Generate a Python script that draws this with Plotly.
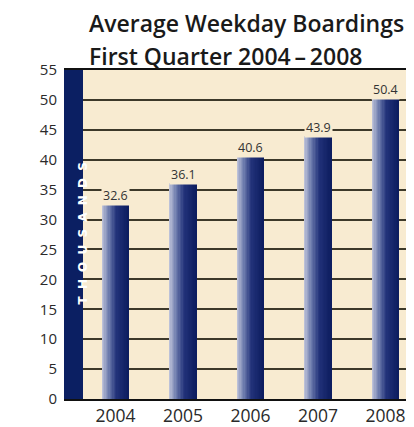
import plotly.graph_objects as go

years = ["2004", "2005", "2006", "2007", "2008"]
boardings = [32.6, 36.1, 40.6, 43.9, 50.4]
y_ticks = [0, 5, 10, 15, 20, 25, 30, 35, 40, 45, 50, 55]
title_lines = ["Average Weekday Boardings", "First Quarter 2004\u2009\u2013\u20092008"]
axis_label = "THOUSANDS"

NAVY = "#0b1f62"
BEIGE = "#f8ebd1"
OFF = 8  # page body margin
W, H = 414 - OFF, 427 - OFF
ML, MR, MT, MB = 64 - OFF, 0, 70 - OFF, 28
PW, PH = W - ML - MR, H - MT - MB

def lerp(c1, c2, t):
    a = [int(c1[i:i + 2], 16) for i in (1, 3, 5)]
    b = [int(c2[i:i + 2], 16) for i in (1, 3, 5)]
    return "#%02x%02x%02x" % tuple(round(a[k] + (b[k] - a[k]) * t) for k in range(3))

stops = [(0.0, "#c4c8dc"), (0.25, "#7280b0"), (0.55, "#22327a"), (1.0, "#0c1c5e")]
def grad(t):
    for (t0, c0), (t1, c1) in zip(stops, stops[1:]):
        if t <= t1:
            return lerp(c0, c1, (t - t0) / (t1 - t0))
    return stops[-1][1]

xs = list(range(len(years)))
bar_w = 0.40
n = 20
fig = go.Figure()
for i in range(n):
    fig.add_trace(go.Bar(
        x=xs, y=boardings, width=bar_w / n + 0.002,
        offset=-bar_w / 2 + i * bar_w / n,
        marker=dict(color=grad((i + 0.5) / n), line=dict(width=0)),
        showlegend=False, hoverinfo="skip"))

px_per_cat = 67.5
c0 = 115.5 - 64
x_lo = -c0 / px_per_cat
x_hi = (PW - c0) / px_per_cat

annotations = []
for xi, v in zip(xs, boardings):
    annotations.append(dict(x=xi, y=v, xref="x", yref="y", text=f"{v:.1f}",
                            showarrow=False, yanchor="bottom", yshift=-2,
                            bgcolor=BEIGE, borderpad=1,
                            font=dict(family="Open Sans", size=12.5, color="#333333")))

def py2paper(py):
    # py: pixel y in the reference window
    return (H - MB - (py - OFF)) / PH

for txt, py in zip(title_lines, [23, 56]):
    annotations.append(dict(x=(87 - 64) / PW, y=py2paper(py), xref="paper", yref="paper",
                            text=txt, showarrow=False, xanchor="left", yanchor="middle",
                            font=dict(family="Open Sans", size=23, weight=600, color="#1a1a1a")))

strip_w = 19 / PW
annotations.append(dict(x=strip_w / 2, y=py2paper(234), xref="paper", yref="paper",
                        text="\u2002\u200a".join(axis_label), textangle=-90, showarrow=False,
                        font=dict(family="DejaVu Sans", size=12, weight=700, color="#ffffff")))

fig.update_layout(
    width=W, height=H, margin=dict(l=ML, r=MR, t=MT, b=MB, autoexpand=False),
    paper_bgcolor="#ffffff", plot_bgcolor=BEIGE,
    barmode="overlay", bargap=0,
    annotations=annotations,
    shapes=[dict(type="rect", xref="paper", yref="paper", x0=0, x1=strip_w, y0=0, y1=1,
                 fillcolor=NAVY, line=dict(width=0), layer="above")],
    xaxis=dict(range=[x_lo, x_hi], tickvals=xs, ticktext=years, showgrid=False,
               zeroline=False, showline=True, linecolor="#111111", linewidth=2,
               mirror=True, ticks="", ticklabelstandoff=0, automargin=False,
               tickfont=dict(family="Open Sans", size=17.5, color="#2a2a2a")),
    yaxis=dict(range=[0, 55], tickvals=y_ticks, showgrid=True, gridcolor="#3d3829",
               gridwidth=1.5, zeroline=False, showline=False, ticks="",
               ticklabelstandoff=6, automargin=False,
               tickfont=dict(family="Open Sans", size=15, color="#2a2a2a")),
)
fig.write_html("out.html")
